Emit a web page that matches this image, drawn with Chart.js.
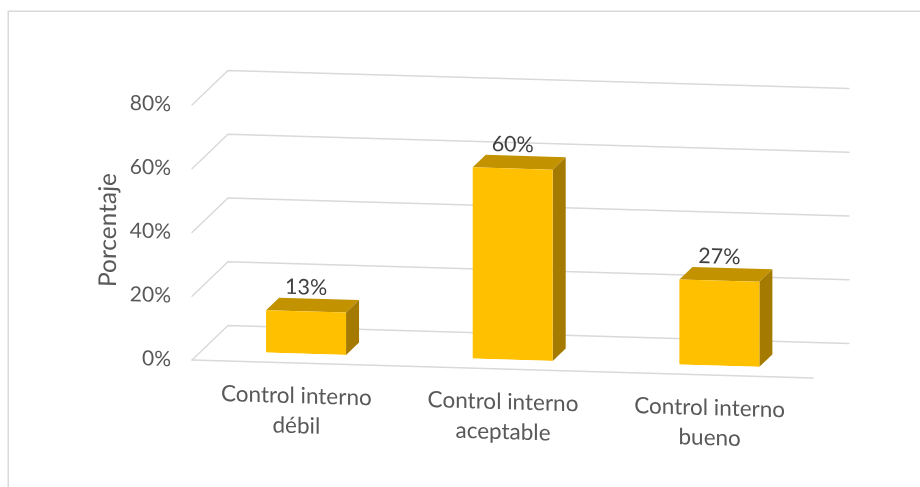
<!DOCTYPE html>
<html>
<head>
<meta charset="utf-8">
<script src="https://cdn.jsdelivr.net/npm/chart.js@4.4.1/dist/chart.umd.min.js"></script>
<style>
  html, body { margin: 0; padding: 0; background: #ffffff; }
  canvas { display: block; }
</style>
</head>
<body>
<canvas id="c" width="920" height="487"></canvas>
<script>
// ---- data ----
const categories = [
  ['Control interno', 'débil'],
  ['Control interno', 'aceptable'],
  ['Control interno', 'bueno']
];
const values = [13.3, 60, 26.7];
const tickValues = [0, 20, 40, 60, 80];
const axisTitle = 'Porcentaje';

// ---- 3D look (styles / geometry constants) ----
const SLOPE = 0.029;      // perspective shear
const SHEAR_X0 = 192;
const DEPTH_X = 36, DEPTH_Y = -35.5;
const BAR_FRONT = 0.27, BAR_BACK = 0.631;
const FRONT_COLOR = '#FFC000', TOP_COLOR = '#C29200', SIDE_COLOR = '#A47B00';
const GRID_COLOR = '#d9d9d9';
const FONT = 'Lato, "Open Sans", sans-serif';

const threeD = {
  id: 'threeD',
  beforeDraw(chart) {
    const ctx = chart.ctx;
    // outer frame
    ctx.save();
    ctx.strokeStyle = GRID_COLOR;
    ctx.lineWidth = 1.5;
    ctx.strokeRect(8.25, 11.25, 1200, 1200);
    ctx.restore();
    ctx.save();
    ctx.transform(1, SLOPE, 0, 1, 0, -SLOPE * SHEAR_X0);
  },
  beforeDatasetsDraw(chart) {
    const ctx = chart.ctx;
    const ys = chart.scales.y;
    const {left, right} = chart.chartArea;
    ctx.save();
    ctx.strokeStyle = GRID_COLOR;
    ctx.lineWidth = 1.4;
    ctx.lineCap = 'round';
    ys.ticks.forEach(t => {
      const y = ys.getPixelForValue(t.value);
      ctx.beginPath();
      ctx.moveTo(left - 1, y);
      ctx.lineTo(left - 1 + DEPTH_X, y + DEPTH_Y);
      ctx.lineTo(right + DEPTH_X, y + DEPTH_Y);
      ctx.stroke();
      if (t.value === 0) {
        ctx.beginPath();
        ctx.moveTo(left - 1, y);
        ctx.lineTo(right, y);
        ctx.stroke();
      }
    });
    ctx.restore();
    // move bars into the depth
    ctx.save();
    ctx.translate(DEPTH_X * BAR_FRONT, DEPTH_Y * BAR_FRONT);
    const sx = DEPTH_X * (BAR_BACK - BAR_FRONT);
    const sy = DEPTH_Y * (BAR_BACK - BAR_FRONT);
    chart.getDatasetMeta(0).data.forEach(el => {
      const p = el.getProps(['x', 'y', 'base', 'width'], true);
      const l = p.x - p.width / 2, r = p.x + p.width / 2;
      ctx.fillStyle = TOP_COLOR;
      ctx.beginPath();
      ctx.moveTo(l, p.y); ctx.lineTo(r, p.y);
      ctx.lineTo(r + sx, p.y + sy); ctx.lineTo(l + sx, p.y + sy);
      ctx.closePath(); ctx.fill();
      ctx.fillStyle = SIDE_COLOR;
      ctx.beginPath();
      ctx.moveTo(r, p.y); ctx.lineTo(r + sx, p.y + sy);
      ctx.lineTo(r + sx, p.base + sy); ctx.lineTo(r, p.base);
      ctx.closePath(); ctx.fill();
    });
  },
  afterDatasetsDraw(chart) {
    const ctx = chart.ctx;
    const sy = DEPTH_Y * (BAR_BACK - BAR_FRONT);
    ctx.fillStyle = '#404040';
    ctx.font = '21.5px ' + FONT;
    ctx.textAlign = 'center';
    ctx.textBaseline = 'middle';
    chart.getDatasetMeta(0).data.forEach((el, i) => {
      const p = el.getProps(['x', 'y'], true);
      ctx.fillText(Math.round(values[i]) + '%', p.x, p.y + sy - 11);
    });
    ctx.restore(); // translate
  },
  afterDraw(chart) {
    chart.ctx.restore(); // shear
  }
};

new Chart(document.getElementById('c'), {
  type: 'bar',
  data: {
    labels: categories,
    datasets: [{
      data: values,
      backgroundColor: FRONT_COLOR,
      borderWidth: 0,
      barPercentage: 0.387,
      categoryPercentage: 1
    }]
  },
  options: {
    responsive: false,
    devicePixelRatio: 1,
    animation: false,
    layout: { padding: { top: 105, right: 107, left: 0, bottom: 0 } },
    plugins: { legend: { display: false }, tooltip: { enabled: false } },
    scales: {
      x: {
        grid: { display: false, drawTicks: false },
        border: { display: false },
        ticks: {
          color: '#595959',
          font: { family: FONT, size: 22.5, lineHeight: 1.33 },
          padding: 18,
          maxRotation: 0,
          autoSkip: false
        },
        afterFit(s) { s.height = 127; }
      },
      y: {
        min: 0, max: 80,
        afterBuildTicks(s) { s.ticks = tickValues.map(v => ({ value: v })); },
        grid: { display: false, drawTicks: false },
        border: { display: false },
        ticks: {
          color: '#595959',
          font: { family: FONT, size: 21 },
          padding: 22,
          callback: v => v + '%'
        },
        title: {
          display: true,
          text: axisTitle,
          color: '#595959',
          font: { family: FONT, size: 24.5 },
          padding: { top: 93, bottom: 0 }
        },
        afterFit(s) { s.width = 193; }
      }
    }
  },
  plugins: [threeD]
});
</script>
</body>
</html>
